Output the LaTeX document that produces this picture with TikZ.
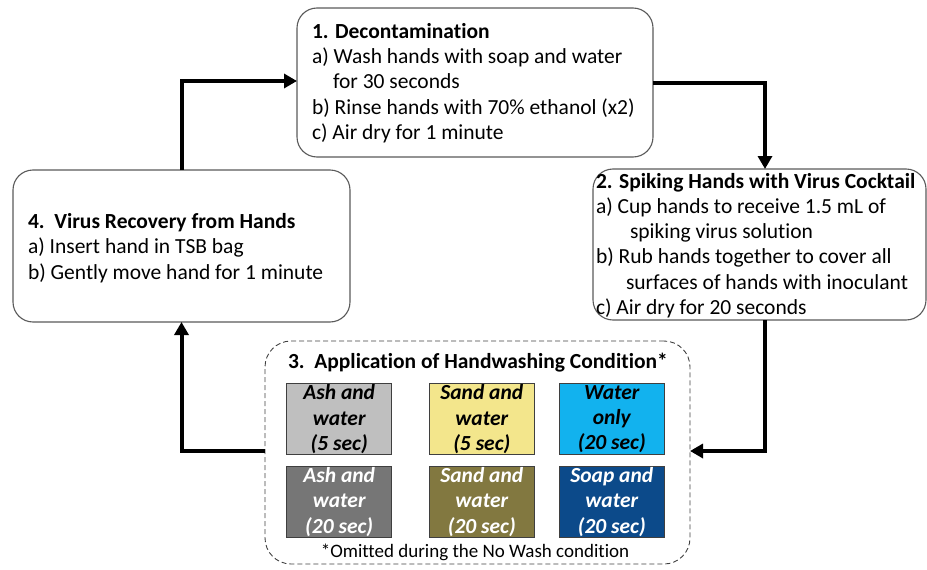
\documentclass[tikz,border=0pt]{standalone}
\usepackage{fontspec}
\setmainfont{Carlito}[Ligatures=NoCommon]
\usetikzlibrary{arrows.meta}

\definecolor{edgegray}{HTML}{5A5A5A}
\definecolor{dashgray}{HTML}{404040}
\definecolor{celledge}{HTML}{3F3F3F}
\definecolor{ashlight}{HTML}{BFBFBF}
\definecolor{sandlight}{HTML}{F3E68C}
\definecolor{waterblue}{HTML}{12B2EE}
\definecolor{ashdark}{HTML}{767676}
\definecolor{sanddark}{HTML}{827840}
\definecolor{soapblue}{HTML}{0C4A8A}

\begin{document}
\begin{tikzpicture}[x=1pt,y=-1pt,
  every node/.style={inner sep=0pt, outer sep=0pt},
  stepbox/.style={draw=edgegray, line width=1.1pt, rounded corners=20pt, fill=white},
  condbox/.style={draw=dashgray, line width=0.9pt, dash pattern=on 5pt off 3pt, rounded corners=26pt},
  steptext/.style={anchor=west, align=left, font=\fontsize{21.5}{25.2}\selectfont},
  cell/.style={draw=celledge, line width=0.8pt, minimum width=105pt, minimum height=71pt,
    align=center, font=\fontsize{21.5}{25.3}\selectfont\bfseries\itshape},
  flow/.style={line width=4pt, -{Triangle[length=13pt,width=14pt]}}
]
\useasboundingbox (0,0) rectangle (927,570);

% step boxes
\node[stepbox, minimum width=356pt, minimum height=149pt] (b1) at (475,82.5) {};
\node[stepbox, minimum width=333pt, minimum height=151pt] (b2) at (759.5,244.5) {};
\node[stepbox, minimum width=337pt, minimum height=152pt] (b4) at (181.5,246) {};
\node[condbox, minimum width=425pt, minimum height=223pt] (b3) at (477.5,452.5) {};

% step texts
\node[steptext] (t1) at (312,83) {\textbf{1. Decontamination}\\
a) Wash hands with soap and water\\
\hspace*{21pt}for 30 seconds\\
b) Rinse hands with 70\% ethanol (x2)\\
c) Air dry for 1 minute};

\node[steptext] (t2) at (596,245.5) {\textbf{2. Spiking Hands with Virus Cocktail}\\
a) Cup hands to receive 1.5 mL of\\
\hspace*{34pt}spiking virus solution\\
b) Rub hands together to cover all\\
\hspace*{30pt}surfaces of hands with inoculant\\
c) Air dry for 20 seconds};

\node[steptext] (t4) at (28,248) {\textbf{4.\ \ Virus Recovery from Hands}\\
a) Insert hand in TSB bag\\
b) Gently move hand for 1 minute};

\node[steptext, font=\fontsize{21.5}{24}\selectfont\bfseries] (t3) at (288,363)
  {3.\ \ Application of Handwashing Condition*};
\node[font=\fontsize{19}{23}\selectfont] (n3) at (475,552)
  {*Omitted during the No Wash condition};

% handwashing conditions
\node[cell, fill=ashlight] (c11) at (339.2,419.2) {Ash and\\water\\(5 sec)};
\node[cell, fill=sandlight] (c12) at (481.8,419.2) {Sand and\\water\\(5 sec)};
\node[cell, fill=waterblue] (c13) at (611.8,419.2) {Water\\only\\(20 sec)};
\node[cell, fill=ashdark, text=white] (c21) at (339.2,501.9) {Ash and\\water\\(20 sec)};
\node[cell, fill=sanddark, text=white] (c22) at (481.8,501.9) {Sand and\\water\\(20 sec)};
\node[cell, fill=soapblue, text=white] (c23) at (611.8,501.9) {Soap and\\water\\(20 sec)};

% cycle connectors
\draw[flow] (b4.north) |- ([yshift=1.5pt]b1.west);
\draw[flow] (b1.east) -| ([xshift=5.5pt]b2.north);
\draw[flow] ([xshift=5.5pt]b2.south) |- ([yshift=1.5pt]b3.east);
\draw[flow] ([yshift=1.5pt]b3.west) -| (b4.south);
\end{tikzpicture}
\end{document}
